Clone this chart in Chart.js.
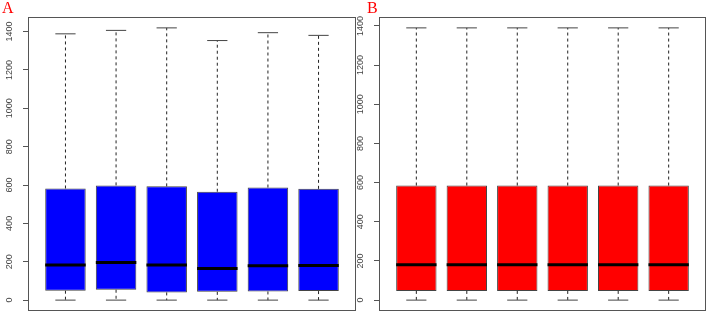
<!DOCTYPE html>
<html>
<head>
<meta charset="utf-8">
<script src="https://cdn.jsdelivr.net/npm/chart.js@4/dist/chart.umd.min.js"></script>
<style>
  html, body { margin: 0; padding: 0; background: #fff; }
  #wrap { position: relative; width: 709px; height: 313px; overflow: hidden; }
  canvas { position: absolute; top: 0; }
  .tag { position: absolute; top: -2px; font-family: "Liberation Serif", "DejaVu Serif", serif; font-size: 16px; color: #ff0000; line-height: 20px; }
</style>
</head>
<body>
<div id="wrap">
  <canvas id="cA" width="360" height="313" style="left:0px"></canvas>
  <canvas id="cB" width="358" height="313" style="left:351px"></canvas>
  <div class="tag" style="left:2px">A</div>
  <div class="tag" style="left:367px">B</div>
</div>
<script>
// ---- data ----
const samples = [1, 2, 3, 4, 5, 6];
const yTicks = [0, 200, 400, 600, 800, 1000, 1200, 1400];

// Panel A (raw)
const aMin    = [0, 0, 0, 0, 0, 0];
const aQ1     = [49, 54, 40, 43, 45, 47];
const aMedian = [183, 196, 183, 165, 179, 181];
const aQ3     = [582, 598, 593, 565, 587, 580];
const aMax    = [1388, 1406, 1419, 1353, 1394, 1380];

// Panel B (normalized)
const bMin    = [0, 0, 0, 0, 0, 0];
const bQ1     = [47, 47, 47, 47, 47, 47];
const bMedian = [181, 181, 181, 181, 181, 181];
const bQ3     = [585, 585, 585, 585, 585, 585];
const bMax    = [1390, 1390, 1390, 1390, 1390, 1390];

function buildChart(canvasId, mins, q1s, meds, q3s, maxs, fill, padRight) {
  const lo = Math.min(...mins), hi = Math.max(...maxs);
  const yPad = 0.04 * (hi - lo);
  const xLo = 0.5, xHi = samples.length + 0.5;
  const xPad = 0.04 * (xHi - xLo);

  const boxes = samples.map((s, i) => ({ x: s, y: [q1s[i], q3s[i]] }));
  const medians = [], whiskers = [], caps = [];
  samples.forEach((s, i) => {
    medians.push({ x: s - 0.4, y: meds[i] }, { x: s + 0.4, y: meds[i] }, { x: s + 0.4, y: null });
    whiskers.push({ x: s, y: q3s[i] }, { x: s, y: maxs[i] }, { x: s, y: null },
                  { x: s, y: q1s[i] }, { x: s, y: mins[i] }, { x: s, y: null });
    caps.push({ x: s - 0.2, y: maxs[i] }, { x: s + 0.2, y: maxs[i] }, { x: s + 0.2, y: null },
              { x: s - 0.2, y: mins[i] }, { x: s + 0.2, y: mins[i] }, { x: s + 0.2, y: null });
  });

  const framePlugin = {
    id: 'frame',
    afterDraw(chart) {
      const a = chart.chartArea, ctx = chart.ctx;
      ctx.save();
      ctx.strokeStyle = '#555';
      ctx.lineWidth = 1;
      ctx.strokeRect(Math.round(a.left) + 0.5, Math.round(a.top) + 0.5,
                     Math.round(a.right - a.left) - 1, Math.round(a.bottom - a.top) - 1);
      ctx.restore();
    }
  };

  return new Chart(document.getElementById(canvasId), {
    type: 'bar',
    data: {
      datasets: [
        { type: 'bar', data: boxes, backgroundColor: fill, borderColor: '#444', borderWidth: 1,
          borderSkipped: false, barPercentage: 0.8, categoryPercentage: 1.0, order: 3 },
        { type: 'line', data: whiskers, borderColor: '#222', borderWidth: 1, borderDash: [3, 3],
          pointRadius: 0, spanGaps: false, fill: false, order: 2 },
        { type: 'line', data: caps, borderColor: '#444', borderWidth: 1,
          pointRadius: 0, spanGaps: false, fill: false, order: 1 },
        { type: 'line', data: medians, borderColor: '#000', borderWidth: 3, borderCapStyle: 'butt',
          pointRadius: 0, spanGaps: false, fill: false, order: 0 }
      ]
    },
    options: {
      responsive: false,
      animation: false,
      events: [],
      layout: { padding: { left: 0, top: 17, right: padRight, bottom: 2 } },
      plugins: { legend: { display: false }, tooltip: { enabled: false } },
      scales: {
        x: { type: 'linear', min: xLo - xPad, max: xHi + xPad, offset: false, display: false,
             grid: { offset: false } },
        y: {
          type: 'linear', min: lo - yPad, max: hi + yPad,
          afterBuildTicks: (s) => { s.ticks = yTicks.map(v => ({ value: v })); },
          afterFit: (s) => { s.width = 28; s.paddingTop = 0; s.paddingBottom = 0; s.paddingLeft = 0; s.paddingRight = 0; },
          border: { display: false },
          grid: { drawOnChartArea: false, drawTicks: true, tickLength: 5, color: '#555', tickColor: '#555' },
          ticks: {
            callback: (v) => String(v),
            minRotation: 90, maxRotation: 90, crossAlign: 'center', padding: 3,
            color: '#444', font: { family: '"Liberation Sans Narrow", "Liberation Sans", Arial, sans-serif', size: 9 }
          }
        }
      }
    },
    plugins: [framePlugin]
  });
}

buildChart('cA', aMin, aQ1, aMedian, aQ3, aMax, '#0000ff', 4);
buildChart('cB', bMin, bQ1, bMedian, bQ3, bMax, '#ff0000', 3);
</script>
</body>
</html>
